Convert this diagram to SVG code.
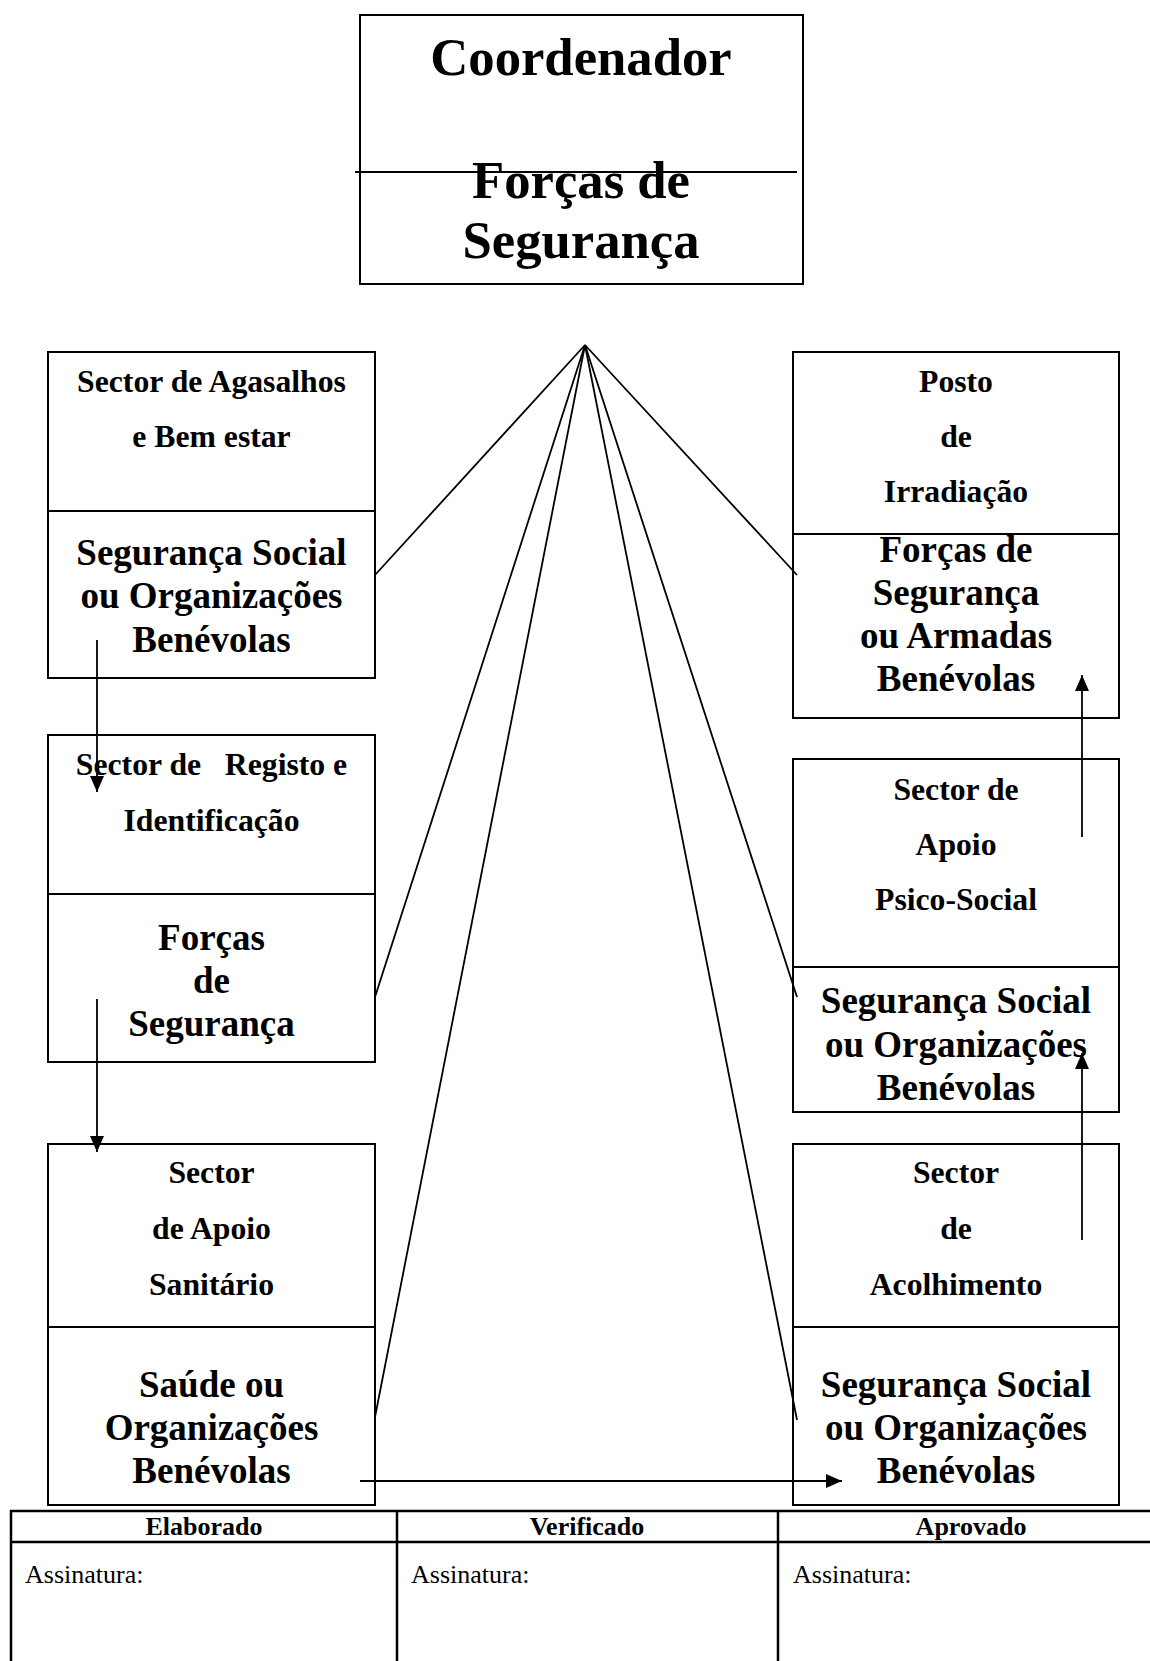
<svg xmlns="http://www.w3.org/2000/svg" width="1150" height="1661" viewBox="0 0 1150 1661">
<style>
  .box { fill: #fff; stroke: #000; stroke-width: 2; }
  .div { stroke: #000; stroke-width: 2; }
  .t { font-family: "Liberation Serif", "Times New Roman", serif; font-weight: bold; text-anchor: middle; fill: #000; }
  .title { font-size: 52.7px; }
  .small { font-size: 31.7px; white-space: pre; }
  .big { font-size: 37px; }
  .conn { stroke: #000; stroke-width: 1.8; fill: none; }
  .arr { stroke: #000; stroke-width: 1.8; fill: none; marker-end: url(#ah); }
  .tbl { stroke: #000; stroke-width: 2.5; }
  .th { font-family: "Liberation Serif", "Times New Roman", serif; font-weight: bold; font-size: 26px; text-anchor: middle; }
  .td { font-family: "Liberation Serif", "Times New Roman", serif; font-size: 26px; }
</style>
<defs>
  <marker id="ah" markerUnits="userSpaceOnUse" markerWidth="17" markerHeight="15" refX="16" refY="7" orient="auto">
    <path d="M0,0 L16,7 L0,14 z" fill="#000"/>
  </marker>
</defs>
<rect width="1150" height="1661" fill="#fff"/>

<g id="coordenador">
  <rect class="box" x="360" y="15" width="443" height="269"/>
  <text class="t title" x="581" y="75">Coordenador</text>
  <text class="t title" x="581" y="198">Forças de</text>
  <text class="t title" x="581" y="258">Segurança</text>
  <line class="div" x1="355" y1="172" x2="797" y2="172"/>
</g>

<g id="agasalhos">
  <rect class="box" x="48" y="352" width="327" height="326"/>
  <line class="div" x1="48" y1="511" x2="375" y2="511"/>
  <text class="t small" x="211.5" y="392">Sector de Agasalhos</text>
  <text class="t small" x="211.5" y="447">e Bem estar</text>
  <text class="t big" x="211.5" y="565">Segurança Social</text>
  <text class="t big" x="211.5" y="608">ou Organizações</text>
  <text class="t big" x="211.5" y="652">Benévolas</text>
</g>

<g id="registo">
  <rect class="box" x="48" y="735" width="327" height="327"/>
  <line class="div" x1="48" y1="894" x2="375" y2="894"/>
  <text class="t small" x="211.5" y="775">Sector de   Registo e</text>
  <text class="t small" x="211.5" y="831">Identificação</text>
  <text class="t big" x="211.5" y="950">Forças</text>
  <text class="t big" x="211.5" y="993">de</text>
  <text class="t big" x="211.5" y="1036">Segurança</text>
</g>

<g id="sanitario">
  <rect class="box" x="48" y="1144" width="327" height="361"/>
  <line class="div" x1="48" y1="1327" x2="375" y2="1327"/>
  <text class="t small" x="211.5" y="1183">Sector</text>
  <text class="t small" x="211.5" y="1239">de Apoio</text>
  <text class="t small" x="211.5" y="1295">Sanitário</text>
  <text class="t big" x="211.5" y="1397">Saúde ou</text>
  <text class="t big" x="211.5" y="1440">Organizações</text>
  <text class="t big" x="211.5" y="1483">Benévolas</text>
</g>

<g id="irradiacao">
  <rect class="box" x="793" y="352" width="326" height="366"/>
  <line class="div" x1="793" y1="534" x2="1119" y2="534"/>
  <text class="t small" x="956" y="392">Posto</text>
  <text class="t small" x="956" y="447">de</text>
  <text class="t small" x="956" y="502">Irradiação</text>
  <text class="t big" x="956" y="562">Forças de</text>
  <text class="t big" x="956" y="605">Segurança</text>
  <text class="t big" x="956" y="648">ou Armadas</text>
  <text class="t big" x="956" y="691">Benévolas</text>
</g>

<g id="psicosocial">
  <rect class="box" x="793" y="759" width="326" height="353"/>
  <line class="div" x1="793" y1="967" x2="1119" y2="967"/>
  <text class="t small" x="956" y="800">Sector de</text>
  <text class="t small" x="956" y="855">Apoio</text>
  <text class="t small" x="956" y="910">Psico-Social</text>
  <text class="t big" x="956" y="1013">Segurança Social</text>
  <text class="t big" x="956" y="1057">ou Organizações</text>
  <text class="t big" x="956" y="1100">Benévolas</text>
</g>

<g id="acolhimento">
  <rect class="box" x="793" y="1144" width="326" height="361"/>
  <line class="div" x1="793" y1="1327" x2="1119" y2="1327"/>
  <text class="t small" x="956" y="1183">Sector</text>
  <text class="t small" x="956" y="1239">de</text>
  <text class="t small" x="956" y="1295">Acolhimento</text>
  <text class="t big" x="956" y="1397">Segurança Social</text>
  <text class="t big" x="956" y="1440">ou Organizações</text>
  <text class="t big" x="956" y="1483">Benévolas</text>
</g>

<g id="connectors">
  <line class="conn" x1="585" y1="345" x2="375" y2="575"/>
  <line class="conn" x1="585" y1="345" x2="375" y2="997"/>
  <line class="conn" x1="585" y1="345" x2="375" y2="1417"/>
  <line class="conn" x1="585" y1="345" x2="797" y2="575"/>
  <line class="conn" x1="585" y1="345" x2="797" y2="997"/>
  <line class="conn" x1="585" y1="345" x2="797" y2="1420"/>
  <line class="arr" x1="97" y1="640" x2="97" y2="792"/>
  <line class="arr" x1="97" y1="999" x2="97" y2="1152"/>
  <line class="arr" x1="1082" y1="837" x2="1082" y2="675"/>
  <line class="arr" x1="1082" y1="1240" x2="1082" y2="1053"/>
  <line class="arr" x1="360" y1="1481" x2="842" y2="1481"/>
</g>

<g id="tabela">
  <line class="tbl" x1="10" y1="1511" x2="1150" y2="1511"/>
  <line class="tbl" x1="10" y1="1542" x2="1150" y2="1542"/>
  <line class="tbl" x1="11" y1="1510" x2="11" y2="1661"/>
  <line class="tbl" x1="397" y1="1510" x2="397" y2="1661"/>
  <line class="tbl" x1="778" y1="1510" x2="778" y2="1661"/>
  <text class="th" x="204" y="1535">Elaborado</text>
  <text class="th" x="587" y="1535">Verificado</text>
  <text class="th" x="971" y="1535">Aprovado</text>
  <text class="td" x="25" y="1583">Assinatura:</text>
  <text class="td" x="411" y="1583">Assinatura:</text>
  <text class="td" x="793" y="1583">Assinatura:</text>
</g>
</svg>
